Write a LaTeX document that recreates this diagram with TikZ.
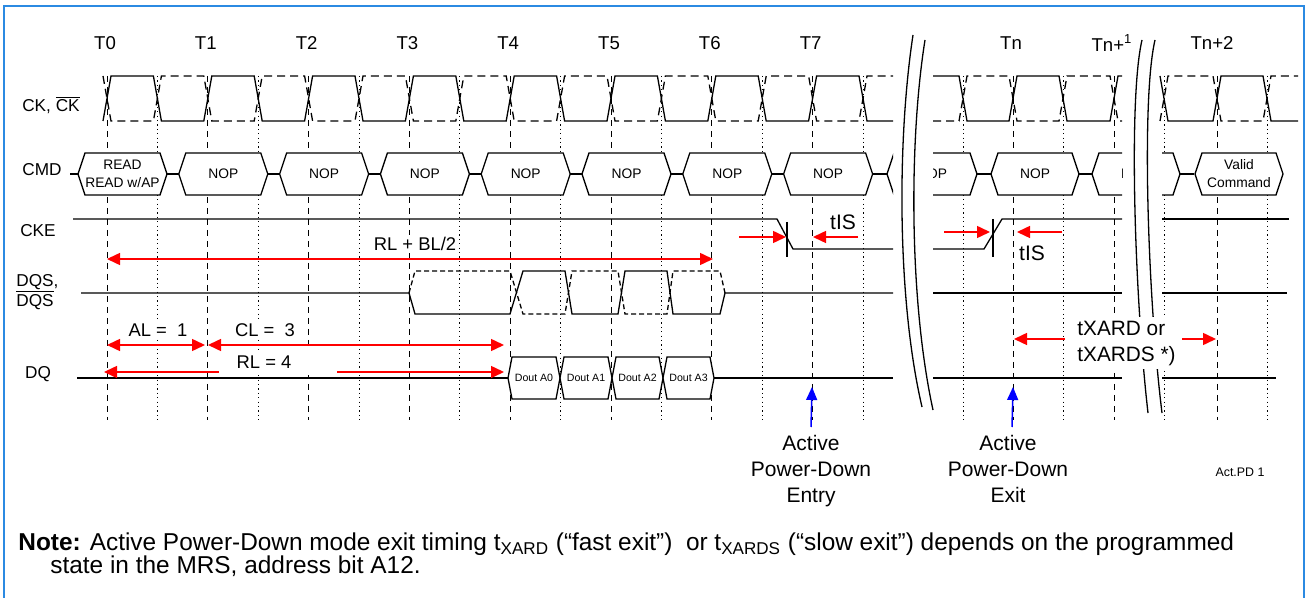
\documentclass[tikz,border=0pt]{standalone}
\usepackage{fontspec}
\setmainfont{Liberation Sans}
\usepackage{tikz}
\usetikzlibrary{positioning,arrows.meta}
\definecolor{boxblue}{HTML}{2B8AE2}
\tikzset{
  sig/.style={line width=0.65pt},
  tline/.style={line width=0.5pt,dash pattern=on 3pt off 2.5pt},
  hline/.style={line width=0.5pt,dash pattern=on 0.6pt off 1.6pt},
  ckdash/.style={sig,dash pattern=on 4pt off 2.5pt},
  dimarr/.style={red,line width=0.75pt,{Triangle[length=6.5pt,width=6pt]}-{Triangle[length=6.5pt,width=6pt]}},
  redarr/.style={red,line width=0.75pt,-{Triangle[length=6.5pt,width=6pt]}},
  bluearr/.style={blue,line width=0.75pt,-{Triangle[length=6.5pt,width=5.5pt]}},
  tlbl/.style={font=\fontsize{9.3}{11}\selectfont,inner sep=0pt},
  rowlbl/.style={font=\fontsize{8.6}{10}\selectfont,inner sep=0pt},
  cmdtxt/.style={font=\fontsize{6.9}{9}\selectfont,align=center,inner sep=0pt},
  douttxt/.style={font=\fontsize{5.3}{6}\selectfont,inner sep=0pt},
  timlbl/.style={font=\fontsize{9.2}{11}\selectfont,fill=white,inner sep=1pt},
  bigtxt/.style={font=\fontsize{10.5}{13}\selectfont,align=center,inner sep=0pt},
  boxline/.style={draw=boxblue,line width=0.6pt},
}
\newcommand{\cmdbox}[4]{%
  \draw[sig,fill=white] (#1,174) -- (#1+7,153) -- (#2-7,153) -- (#2,174) -- (#2-7,195) -- (#1+7,195) -- cycle;
  \node[cmdtxt] (#3) at ({(#1+#2)/2},174) {#4};}
\newcommand{\doutbox}[4]{%
  \draw[sig,fill=white] (#1,378) -- (#1+4,357) -- (#2-4,357) -- (#2,378) -- (#2-4,399) -- (#1+4,399) -- cycle;
  \node[douttxt] (#3) at ({(#1+#2)/2},378) {#4};}

\begin{document}
\begin{tikzpicture}[x=0.5pt,y=-0.5pt,node distance=4pt]
  \useasboundingbox (0,0) rectangle (1306,598);
  \draw[boxline] (4,600) -- (4,6) -- (1304,6) -- (1304,600);

  \foreach \k in {0,...,7}
    \node[tlbl] (t\k) at ({105+100.8*\k},43) {T\k};
  \node[tlbl] (tn) at (1011,43) {Tn};
  \node[tlbl] (tn1) at (1112,43) {Tn+\textsuperscript{1}};
  \node[tlbl] (tn2) at (1212,43) {Tn+2};

  \node[rowlbl] (ck) at (51,105) {CK, $\overline{\mbox{CK}}$};
  \node[rowlbl] (cmd) at (42,170) {CMD};
  \node[rowlbl] (cke) at (38,231) {CKE};
  \node[rowlbl,align=left,anchor=west] (dqs) at (16,292) {DQS,\\$\overline{\mbox{DQS}}$};
  \node[rowlbl] (dq) at (38,374) {DQ};

  \foreach \k in {0,...,7} {
    \draw[tline] ({107+100.8*\k},76) -- ({107+100.8*\k},420);
    \draw[hline] ({157.4+100.8*\k},76) -- ({157.4+100.8*\k},420);
  }
  \foreach \x in {1013,1114,1217} \draw[tline] (\x,76) -- (\x,420);
  \foreach \x in {963,1063,1164,1267} \draw[hline] (\x,76) -- (\x,420);

  % CK
  \draw[sig] (103,121) \foreach \k in {0,...,7} { -- ({103+100.8*\k},121) -- ({111+100.8*\k},76) -- ({153.4+100.8*\k},76) -- ({161.4+100.8*\k},121) } -- (893,121);
  \draw[ckdash] (103,76) \foreach \k in {0,...,7} { -- ({103+100.8*\k},76) -- ({111+100.8*\k},121) -- ({153.4+100.8*\k},121) -- ({161.4+100.8*\k},76) } -- (893,76);
  \draw[sig] (933,76) -- (959,76) -- (967,121) -- (1009,121) -- (1017,76) -- (1059,76) -- (1067,121) -- (1110,121) -- (1118,76) -- (1122,76);
  \draw[ckdash] (933,121) -- (959,121) -- (967,76) -- (1009,76) -- (1017,121) -- (1059,121) -- (1067,76) -- (1110,76) -- (1118,121) -- (1122,121);
  \draw[sig] (1160,76) -- (1168,121) -- (1213,121) -- (1221,76) -- (1263,76) -- (1271,121) -- (1298,121);
  \draw[ckdash] (1160,121) -- (1168,76) -- (1213,76) -- (1221,121) -- (1263,121) -- (1271,76) -- (1298,76);

  % CMD
  \draw[sig] (70,174) -- (893,174) (933,174) -- (1122,174) (1162,174) -- (1194,174);
  \cmdbox{78}{167}{rd}{READ\\READ w/AP}
  \foreach \k in {1,...,7} {
    \pgfmathsetmacro\xa{78+100.8*\k}
    \pgfmathsetmacro\xb{167+100.8*\k}
    \cmdbox{\xa}{\xb}{nop\k}{NOP}
  }
  \begin{scope}
    \clip (880,140) rectangle (893,210);
    \cmdbox{887}{977}{nopa}{NOP}
  \end{scope}
  \begin{scope}
    \clip (933,140) rectangle (990,210);
    \cmdbox{887}{977}{nopb}{NOP}
  \end{scope}
  \cmdbox{991}{1079}{nopn}{NOP}
  \begin{scope}
    \clip (1085,140) rectangle (1122,210);
    \cmdbox{1092}{1180}{nopc}{NOP}
  \end{scope}
  \begin{scope}
    \clip (1162,140) rectangle (1190,210);
    \cmdbox{1092}{1180}{nopd}{NOP}
  \end{scope}
  \cmdbox{1195}{1283}{valid}{Valid\\Command}

  % CKE
  \draw[sig] (73,219) -- (777,219) -- (793,249) -- (893,249);
  \draw[sig] (787,222) -- (787,257);
  \draw[sig] (933,249) -- (984,249) -- (1002,219) -- (1122,219);
  \draw[sig] (993,219) -- (993,257);
  \draw[sig] (1162,219) -- (1289,219);

  % DQS
  \draw[sig] (81,293) -- (409,293) -- (415,314) -- (510,314) -- (523,271) -- (565,271) -- (572,314) -- (618,314) -- (625,271) -- (667,271) -- (673,314) -- (720,314) -- (725,293) -- (893,293);
  \draw[sig,dash pattern=on 2.5pt off 1.5pt] (409,293) -- (415,271) -- (510,271) -- (523,314) -- (565,314) -- (572,271) -- (618,271) -- (625,314) -- (667,314) -- (673,271) -- (720,271) -- (725,293);
  \draw[sig] (933,293) -- (1122,293) (1162,293) -- (1287,293);

  % DQ
  \draw[sig] (77,378) -- (508,378) (714,378) -- (893,378) (933,378) -- (1122,378) (1162,378) -- (1276,378);
  \doutbox{508}{560}{d0}{Dout A0}
  \doutbox{560}{612}{d1}{Dout A1}
  \doutbox{612}{663}{d2}{Dout A2}
  \doutbox{663}{714}{d3}{Dout A3}

  % breaks
  \draw[sig] (913,35) .. controls (897,140) and (897,300) .. (922,407);
  \draw[sig] (925,40) .. controls (909,140) and (909,300) .. (933,410);
  \draw[sig] (1142,40) .. controls (1128,100) and (1135,300) .. (1148,413);
  \draw[sig] (1155,40) .. controls (1141,100) and (1148,300) .. (1162,413);

  \coordinate (rl0) at (104,372);
  \coordinate (rl1) at (504,372);
  \draw[dimarr] (rl0) -- (rl1);
  \fill[white] (219,350) rectangle (337,375);
  \node[timlbl] (rlb) at (415,244) {RL + BL/2};
  \node[timlbl] (al) at (158,330) {AL =\ \ 1};
  \node[timlbl] (cl) at (265,330) {CL =\ \ 3};
  \node[timlbl,fill=none] (rl) at (264,362) {RL = 4};
  \node[timlbl,font=\fontsize{10.5}{13}\selectfont] (tis1) at (843,222) {tIS};
  \node[timlbl,font=\fontsize{10.5}{13}\selectfont] (tis2) at (1032,253) {tIS};
  \node[timlbl,font=\fontsize{10.4}{13}\selectfont,align=left,anchor=west,inner sep=2pt] (txard) at (1073,343) {tXARD or\\tXARDS *)};

  \coordinate (c0a) at (107,259);
  \coordinate (c6a) at (713,259);
  \coordinate (c0b) at (107,345);
  \coordinate (c1b) at (205,345);
  \coordinate (c1c) at (208,345);
  \coordinate (c4b) at (504,345);
  \draw[dimarr] (c0a) -- (c6a);
  \draw[dimarr] (c0b) -- (c1b);
  \draw[dimarr] (c1c) -- (c4b);

  \coordinate (e0) at (739,237);
  \coordinate (e1) at (786,237);
  \coordinate (e2) at (858,237);
  \coordinate (e3) at (813,237);
  \draw[redarr] (e0) -- (e1);
  \draw[redarr] (e2) -- (e3);
  \coordinate (x0) at (944,232);
  \coordinate (x1) at (990,232);
  \coordinate (x2) at (1062,232);
  \coordinate (x3) at (1017,232);
  \draw[redarr] (x0) -- (x1);
  \draw[redarr] (x2) -- (x3);
  \coordinate (r0) at (1065,339);
  \coordinate (r1) at (1014,339);
  \coordinate (r2) at (1182,339);
  \coordinate (r3) at (1216,339);
  \draw[redarr] (r0) -- (r1);
  \draw[redarr] (r2) -- (r3);

  \coordinate (pde) at (811,427);
  \coordinate (pdet) at (812,387);
  \coordinate (pdx) at (1012,427);
  \coordinate (pdxt) at (1013,387);
  \draw[bluearr] (pde) -- (pdet);
  \draw[bluearr] (pdx) -- (pdxt);
  \node[bigtxt,below=4pt of pde] (entry) {Active\\Power-Down\\Entry};
  \node[bigtxt,below=4pt of pdx,xshift=-2pt] (exit) {Active\\Power-Down\\Exit};
  \node[font=\fontsize{6.2}{7}\selectfont,inner sep=0pt] (actpd) at (1240,472) {Act.PD 1};

  \node[anchor=west,inner sep=0pt,align=left,font=\fontsize{12.2}{11.5}\selectfont] (note) at (18,555) {\textbf{Note:} Active Power-Down mode exit timing t\textsubscript{XARD} (“fast exit”)\ \ or t\textsubscript{XARDS} (“slow exit”) depends on the programmed\\\hspace*{16pt}state in the MRS, address bit A12.};
\end{tikzpicture}
\end{document}
